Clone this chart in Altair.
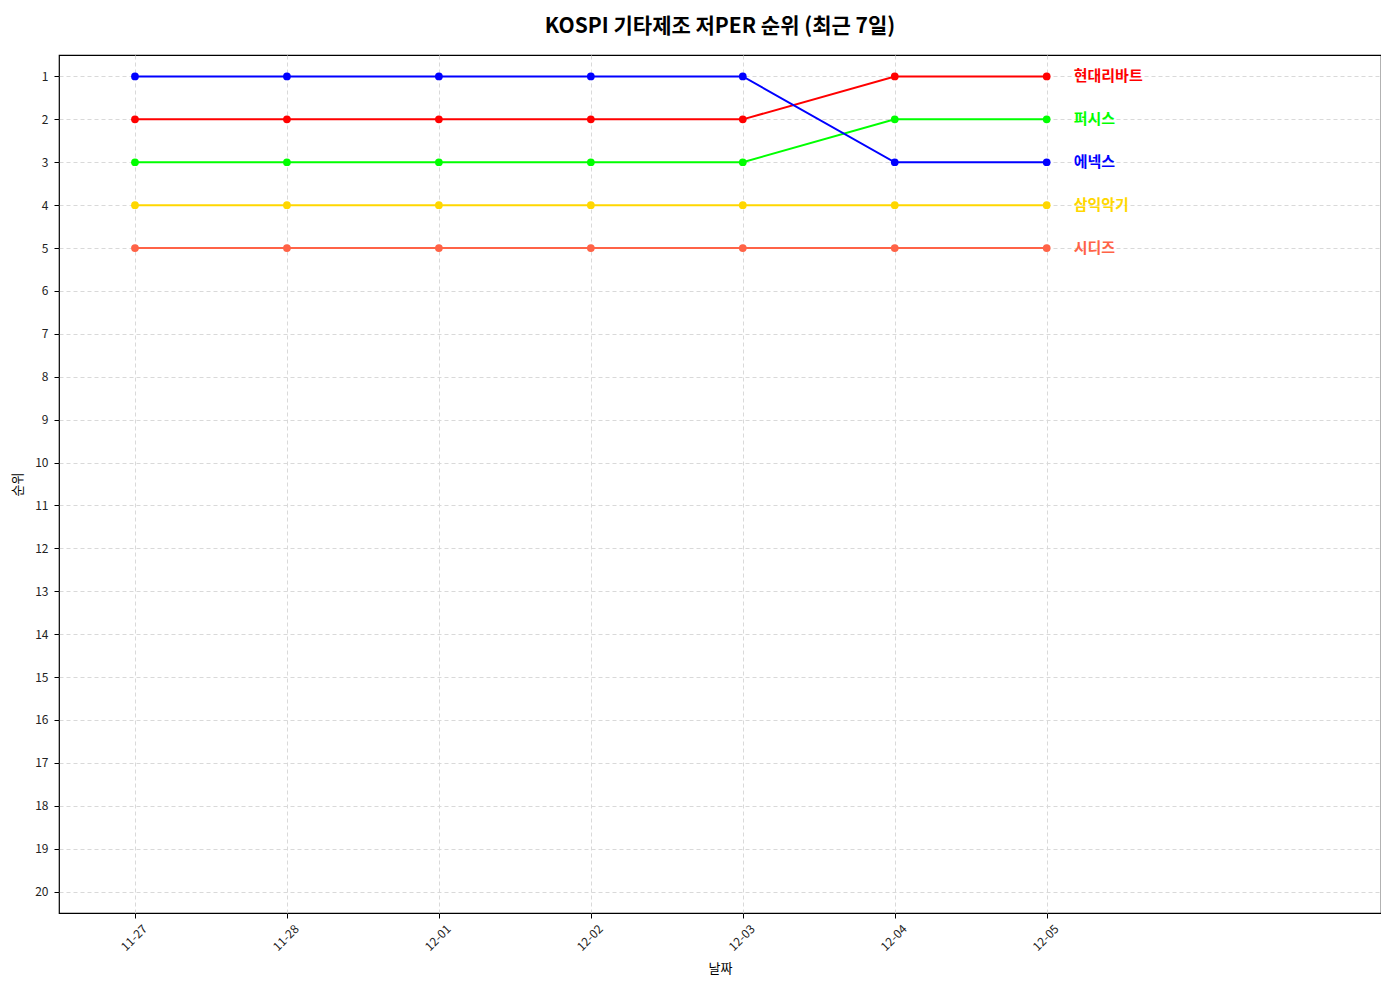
import altair as alt
import pandas as pd

dates = ["11-27", "11-28", "12-01", "12-02", "12-03", "12-04", "12-05"]
companies = ["현대리바트", "퍼시스", "에넥스", "삼익악기", "시디즈"]
rank_hyundai = [2, 2, 2, 2, 2, 1, 1]
rank_fursys = [3, 3, 3, 3, 3, 2, 2]
rank_enex = [1, 1, 1, 1, 1, 3, 3]
rank_samick = [4, 4, 4, 4, 4, 4, 4]
rank_sidiz = [5, 5, 5, 5, 5, 5, 5]
colors = ["#ff0000", "#00ff00", "#0000ff", "#ffd700", "#ff6347"]

series = [rank_hyundai, rank_fursys, rank_enex, rank_samick, rank_sidiz]
rows = []
for ci, (name, vals) in enumerate(zip(companies, series)):
    for i, v in enumerate(vals):
        rows.append({"company": name, "idx": i, "date": dates[i], "rank": v, "order": ci})
df = pd.DataFrame(rows)

FONT = "Noto Sans CJK KR"
label_expr = "[" + ",".join(f"'{d}'" for d in dates) + "][datum.value]"

x = alt.X("idx:Q", scale=alt.Scale(domain=[-0.5, 8.2], nice=False, zero=False),
          axis=alt.Axis(values=list(range(len(dates))), labelExpr=label_expr,
                        title="날짜", labelAngle=-45, labelAlign="right",
                        labelBaseline="top", labelOffset=6, labelPadding=5,
                        grid=True, gridDash=[4, 3], gridColor="#d9d9d9",
                        tickColor="black", tickSize=5, domain=False,
                        labelColor="#222", labelFontSize=12, titleFontSize=13,
                        titleFontWeight="normal", titleColor="black", titlePadding=10))
y = alt.Y("rank:Q", scale=alt.Scale(domain=[0.5, 20.5], reverse=True, nice=False, zero=False),
          axis=alt.Axis(values=list(range(1, 21)), title="순위", grid=True, gridDash=[4, 3],
                        gridColor="#d9d9d9", tickColor="black", tickSize=5, domain=False,
                        labelColor="#222", labelFontSize=12, titleFontSize=13,
                        titleFontWeight="normal", titleColor="black", labelPadding=6,
                        titlePadding=10))
color = alt.Color("company:N", scale=alt.Scale(domain=companies, range=colors), legend=None)

base = alt.Chart(df)
lines = base.mark_line(strokeWidth=2).encode(x=x, y=y, color=color, order="idx:Q")
points = base.mark_circle(size=60, opacity=1).encode(x=x, y=y, color=color)
labels = base.transform_filter(alt.datum.idx == len(dates) - 1).mark_text(
    align="left", baseline="middle", dx=27, fontWeight="bold", fontSize=15, font=FONT
).encode(x=x, y=y, text="company:N", color=color)

chart = (lines + points + labels).properties(
    width=1373, height=974,
    autosize=alt.AutoSizeParams(type="fit", contains="padding"),
    title=alt.TitleParams("KOSPI 기타제조 저PER 순위 (최근 7일)", fontSize=21, fontWeight="bold",
                          font=FONT, color="black", offset=18),
    padding={"left": 3, "top": 8, "right": 0, "bottom": 6},
).configure(font=FONT).configure_view(stroke="black", strokeWidth=1.2)

chart.save("out.html", embed_options={"renderer": "svg", "actions": False})
